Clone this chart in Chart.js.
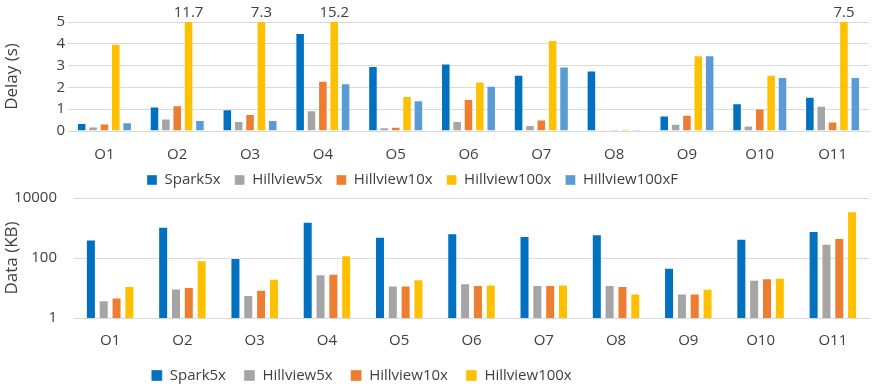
<!DOCTYPE html>
<html>
<head>
<meta charset="utf-8">
<script src="https://cdn.jsdelivr.net/npm/chart.js@4.4.1/dist/chart.umd.min.js"></script>
<style>
  html, body { margin: 0; background: #fff; overflow: hidden; width: 876px; height: 388px; }
  .box { position: absolute; left: 0; width: 876px; }
  #top { top: 0; height: 204px; }
  #bot { top: 172px; height: 221px; }
</style>
</head>
<body>
<div class="box" id="top"><canvas id="myChart1"></canvas></div>
<div class="box" id="bot"><canvas id="myChart2"></canvas></div>
<script>
// categorias
const ops = ['O1', 'O2', 'O3', 'O4', 'O5', 'O6', 'O7', 'O8', 'O9', 'O10', 'O11'];

// delay (s)
const delaySpark5x = [0.37, 1.12, 1.0, 4.5, 2.98, 3.1, 2.58, 2.78, 0.71, 1.27, 1.57];
const delayHill5x = [0.21, 0.57, 0.46, 0.95, 0.17, 0.46, 0.28, 0.04, 0.33, 0.25, 1.16];
const delayHill10x = [0.34, 1.18, 0.78, 2.3, 0.2, 1.47, 0.53, 0.06, 0.74, 1.03, 0.44];
const delayHill100x = [4.0, 11.7, 7.3, 15.2, 1.6, 2.27, 4.17, 0.09, 3.47, 2.58, 7.5];
const delayHill100xF = [0.4, 0.5, 0.5, 2.19, 1.41, 2.07, 2.96, 0.08, 3.47, 2.48, 2.48];
const delayTicks = [0, 1, 2, 3, 4, 5];

// data (KB)
const dataSpark5x = [410, 1100, 100, 1620, 515, 665, 540, 615, 47.5, 440, 795];
const dataHill5x = [3.9, 9.7, 5.8, 28.5, 12, 14.3, 12.6, 12.6, 6.6, 19, 300];
const dataHill10x = [4.8, 10.8, 8.8, 30, 12, 12.6, 12.6, 11.7, 6.6, 21, 465];
const dataHill100x = [11.6, 84, 20.5, 123, 19.5, 13.2, 13.2, 6.6, 9.5, 22, 3600];
const dataTicks = [1, 100, 10000];

const azul = '#0070C0', gris = '#A5A5A5', naranja = '#ED7D31', amarillo = '#FFC000', celeste = '#5B9BD5';
const fuente = "'Open Sans', 'Noto Sans', sans-serif";
const texto = '#404040';

Chart.defaults.font.family = fuente;
Chart.defaults.color = texto;
Chart.defaults.animation = false;

// etiqueta encima de las barras que se salen del eje
const etiquetasFuera = {
    id: 'etiquetasFuera',
    afterDatasetsDraw(chart) {
        const ctx = chart.ctx;
        const max = chart.scales.y.max;
        chart.data.datasets.forEach((ds, i) => {
            const meta = chart.getDatasetMeta(i);
            ds.data.forEach((v, j) => {
                if (v > max) {
                    const bar = meta.data[j];
                    ctx.save();
                    ctx.font = '15px ' + fuente;
                    ctx.fillStyle = texto;
                    ctx.textAlign = 'center';
                    ctx.textBaseline = 'bottom';
                    ctx.fillText(v.toFixed(1), bar.x, chart.chartArea.top - 2);
                    ctx.restore();
                }
            });
        });
    }
};

// la leyenda del original no esta centrada
const moverLeyenda = {
    id: 'moverLeyenda',
    afterLayout(chart, args, opts) {
        const l = chart.legend;
        l.left += opts.dx; l.right += opts.dx;
        l.top += opts.dy; l.bottom += opts.dy;
    }
};

const barra = (label, data, color) => ({
    label: label,
    data: data,
    backgroundColor: color,
    borderColor: 'rgba(255,255,255,0.35)',
    borderWidth: 1,
    borderSkipped: 'bottom'
});

var ctx1 = document.getElementById('myChart1').getContext('2d');
var myChart1 = new Chart(ctx1, {
    type: 'bar',
    data: {
        labels: ops,
        datasets: [
            barra('Spark5x', delaySpark5x, azul),
            barra('Hillview5x', delayHill5x, gris),
            barra('Hillview10x', delayHill10x, naranja),
            barra('Hillview100x', delayHill100x, amarillo),
            barra('Hillview100xF', delayHill100xF, celeste)
        ]
    },
    options: {
        responsive: true,
        maintainAspectRatio: false,
        layout: { padding: { top: 22, right: 7, bottom: 0 } },
        datasets: { bar: { barPercentage: 0.84, categoryPercentage: 0.78 } },
        plugins: {
            legend: {
                position: 'bottom',
                labels: { boxWidth: 10, boxHeight: 10, padding: 14, font: { size: 15 }, color: texto }
            },
            moverLeyenda: { dx: -22, dy: -6.5 },
            tooltip: { enabled: false }
        },
        scales: {
            x: {
                afterFit: (s) => { s.height = 34; },
                grid: { display: false, drawTicks: false },
                border: { color: '#D9D9D9' },
                ticks: { font: { size: 15 }, color: texto, padding: 15 }
            },
            y: {
                min: 0,
                max: 5,
                afterBuildTicks: (s) => { s.ticks = delayTicks.map(v => ({ value: v })); },
                afterFit: (s) => { s.width = 68; },
                grid: { color: '#D9D9D9', drawTicks: false },
                border: { display: false },
                ticks: { font: { size: 15 }, color: texto, padding: 3, autoSkip: false },
                title: { display: true, text: 'Delay (s)', font: { size: 17 }, color: texto, padding: 2 }
            }
        }
    },
    plugins: [etiquetasFuera, moverLeyenda]
});

var ctx2 = document.getElementById('myChart2').getContext('2d');
var myChart2 = new Chart(ctx2, {
    type: 'bar',
    data: {
        labels: ops,
        datasets: [
            barra('Spark5x', dataSpark5x, azul),
            barra('Hillview5x', dataHill5x, gris),
            barra('Hillview10x', dataHill10x, naranja),
            barra('Hillview100x', dataHill100x, amarillo)
        ]
    },
    options: {
        responsive: true,
        maintainAspectRatio: false,
        layout: { padding: { top: 0, right: 7, bottom: 0 } },
        datasets: { bar: { barPercentage: 0.78, categoryPercentage: 0.71 } },
        plugins: {
            legend: {
                position: 'bottom',
                labels: { boxWidth: 11, boxHeight: 11, padding: 18, font: { size: 15 }, color: texto }
            },
            moverLeyenda: { dx: -73, dy: 0 },
            tooltip: { enabled: false }
        },
        scales: {
            x: {
                afterFit: (s) => { s.height = 32; },
                grid: { display: false, drawTicks: false },
                border: { color: '#D9D9D9' },
                ticks: { font: { size: 15 }, color: texto, padding: 14 }
            },
            y: {
                type: 'logarithmic',
                min: 1,
                max: 10000,
                afterBuildTicks: (s) => { s.ticks = dataTicks.map(v => ({ value: v })); },
                afterFit: (s) => { s.width = 74; },
                grid: { color: '#D9D9D9', drawTicks: false },
                border: { display: false },
                ticks: { font: { size: 15 }, color: texto, padding: 17, autoSkip: false, callback: (v) => String(v) },
                title: { display: true, text: 'Data (KB)', font: { size: 17 }, color: texto, padding: 2 }
            }
        }
    },
    plugins: [moverLeyenda]
});
</script>
</body>
</html>
